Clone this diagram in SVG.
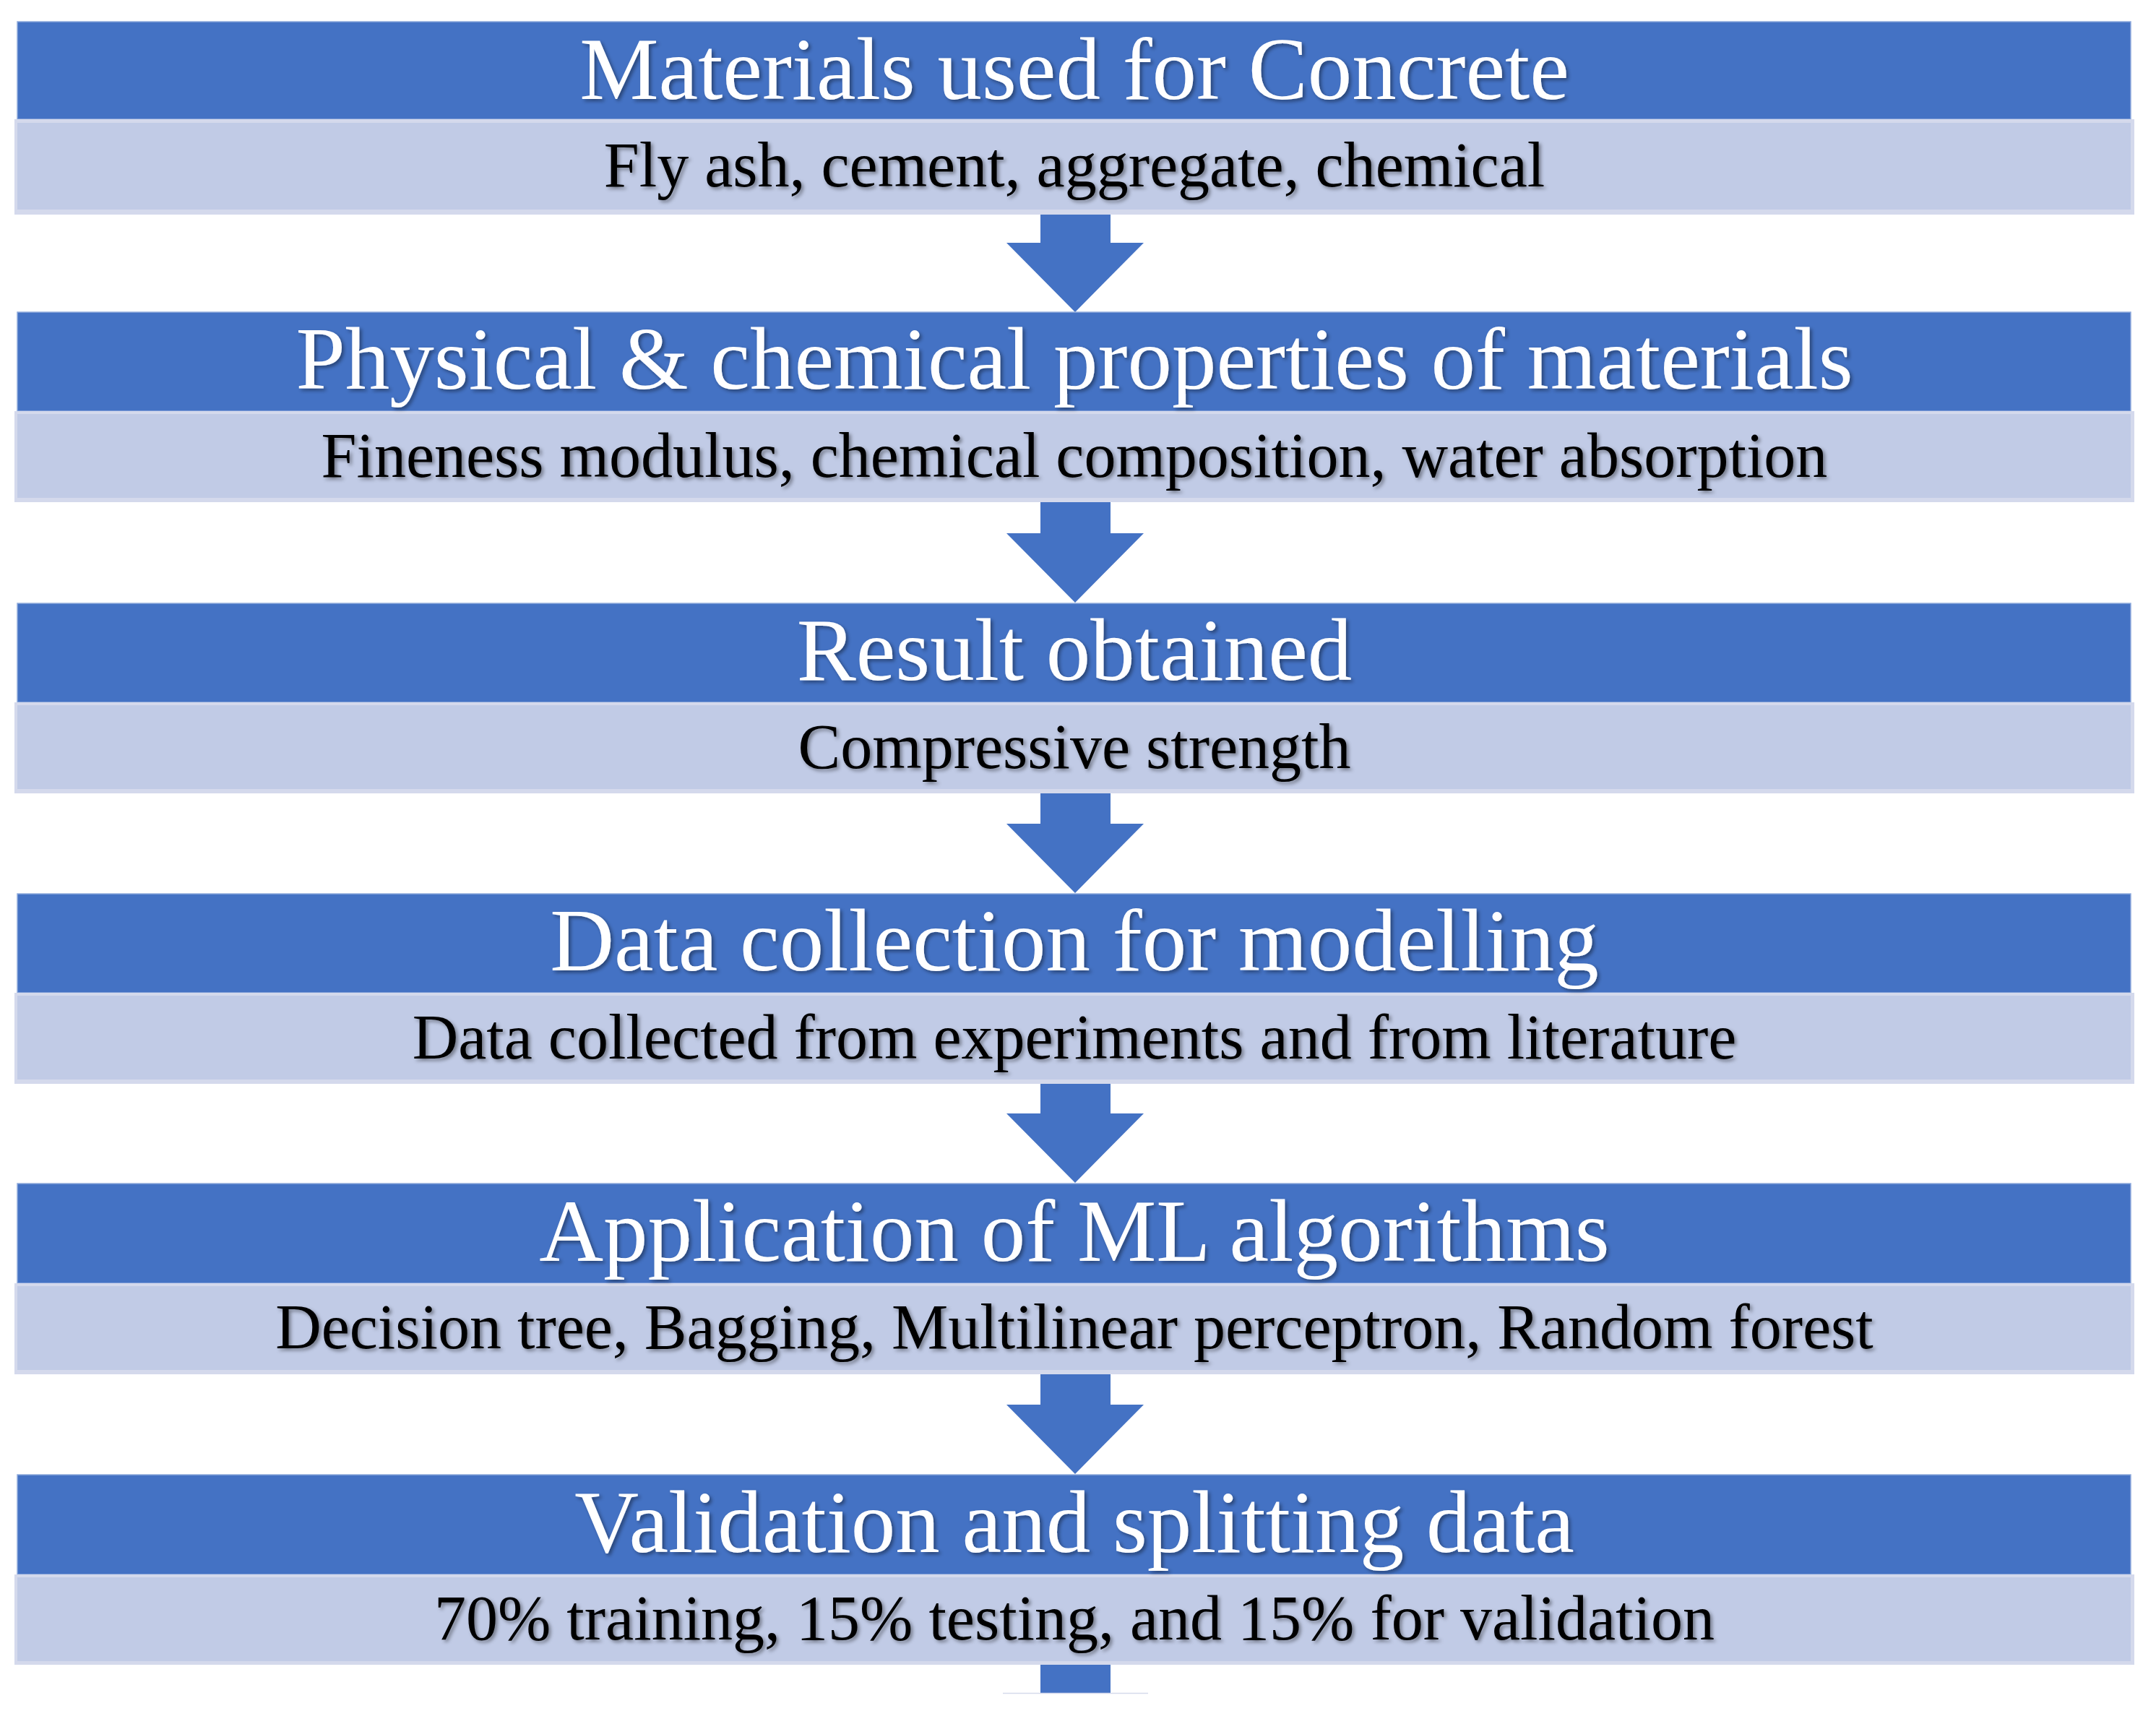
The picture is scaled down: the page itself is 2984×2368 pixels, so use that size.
<svg xmlns="http://www.w3.org/2000/svg" width="2984" height="2368" viewBox="0 0 2984 2368">
<defs>
<style>
.hdr{fill:#4472C4;stroke:#8FAADC;stroke-width:1.5}
.subo{fill:#D4D9EC}
.subi{fill:#C1CBE6}
.title{font-family:"Liberation Serif","Times New Roman",serif;font-size:123px;fill:#FFFFFF;text-anchor:middle;filter:url(#sh)}
.sub{font-family:"Liberation Serif","Times New Roman",serif;font-size:88px;fill:#000000;text-anchor:middle;filter:url(#sh)}
.arr{fill:#4472C4}
</style>
<filter id="sh" x="-5%" y="-20%" width="110%" height="150%">
<feDropShadow dx="3" dy="3" stdDeviation="2.5" flood-color="#000000" flood-opacity="0.4"/>
</filter>
</defs>
<rect width="2984" height="2368" fill="#FFFFFF"/>
<g id="connectors">
<polygon class="arr" points="1440,297 1537,297 1537,336 1583,336 1488,432 1393,336 1440,336"/>
<polygon class="arr" points="1440,695 1537,695 1537,738 1583,738 1488,834 1393,738 1440,738"/>
<polygon class="arr" points="1440,1098 1537,1098 1537,1140 1583,1140 1488,1236 1393,1140 1440,1140"/>
<polygon class="arr" points="1440,1500 1537,1500 1537,1541 1583,1541 1488,1637 1393,1541 1440,1541"/>
<polygon class="arr" points="1440,1902 1537,1902 1537,1944 1583,1944 1488,2040 1393,1944 1440,1944"/>
<rect class="arr" x="1440" y="2304" width="97" height="39"/>
<line x1="1388" y1="2343.5" x2="1589" y2="2343.5" stroke="#D5DAEC" stroke-width="1.5"/>
</g>
<g id="node1">
<rect class="hdr" x="24" y="30" width="2925" height="135"/>
<rect class="subo" x="20" y="165" width="2934" height="132"/>
<rect class="subi" x="24" y="170" width="2925" height="120"/>
<text class="title" x="1487" y="137">Materials used for Concrete</text>
<text class="sub" x="1487" y="258">Fly ash, cement, aggregate, chemical</text>
</g>
<g id="node2">
<rect class="hdr" x="24" y="432" width="2925" height="137"/>
<rect class="subo" x="20" y="569" width="2934" height="126"/>
<rect class="subi" x="24" y="573" width="2925" height="116"/>
<text class="title" x="1487" y="538">Physical &amp; chemical properties of materials</text>
<text class="sub" x="1487" y="660">Fineness modulus, chemical composition, water absorption</text>
</g>
<g id="node3">
<rect class="hdr" x="24" y="835" width="2925" height="137"/>
<rect class="subo" x="20" y="972" width="2934" height="126"/>
<rect class="subi" x="24" y="976" width="2925" height="116"/>
<text class="title" x="1487" y="941">Result obtained</text>
<text class="sub" x="1487" y="1063">Compressive strength</text>
</g>
<g id="node4">
<rect class="hdr" x="24" y="1237" width="2925" height="137"/>
<rect class="subo" x="20" y="1374" width="2934" height="126"/>
<rect class="subi" x="24" y="1378" width="2925" height="116"/>
<text class="title" x="1487" y="1343">Data collection for modelling</text>
<text class="sub" x="1487" y="1465">Data collected from experiments and from literature</text>
</g>
<g id="node5">
<rect class="hdr" x="24" y="1638" width="2925" height="138"/>
<rect class="subo" x="20" y="1776" width="2934" height="126"/>
<rect class="subi" x="24" y="1780" width="2925" height="116"/>
<text class="title" x="1487" y="1745">Application of ML algorithms</text>
<text class="sub" x="1487" y="1866">Decision tree, Bagging, Multilinear perceptron, Random forest</text>
</g>
<g id="node6">
<rect class="hdr" x="24" y="2041" width="2925" height="138"/>
<rect class="subo" x="20" y="2179" width="2934" height="125"/>
<rect class="subi" x="24" y="2183" width="2925" height="116"/>
<text class="title" x="1487" y="2148">Validation and splitting data</text>
<text class="sub" x="1487" y="2269">70% training, 15% testing, and 15% for validation</text>
</g>
</svg>
